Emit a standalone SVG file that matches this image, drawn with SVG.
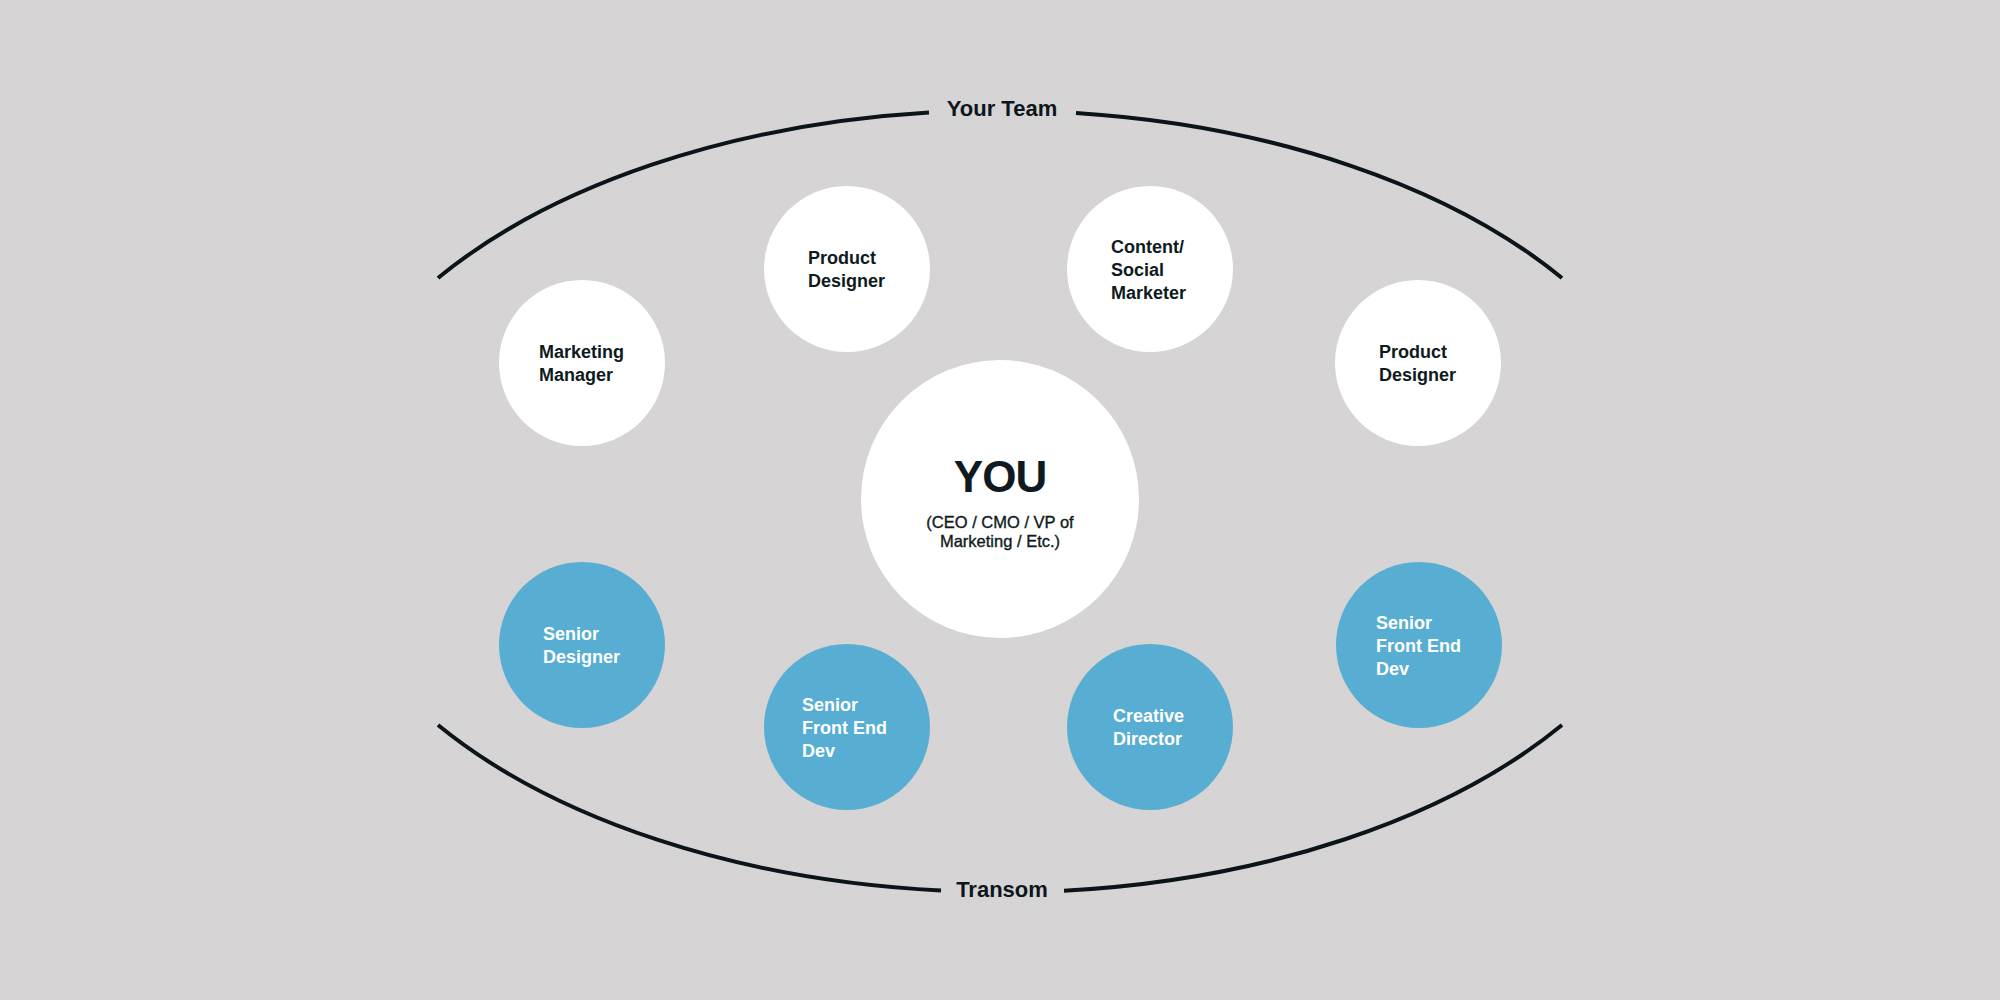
<svg xmlns="http://www.w3.org/2000/svg" width="2000" height="1000" viewBox="0 0 2000 1000">
  <defs>
    <filter id="grain" x="0" y="0" width="100%" height="100%">
      <feTurbulence type="fractalNoise" baseFrequency="0.9" numOctaves="2" seed="3" result="n"/>
      <feColorMatrix type="matrix" values="0 0 0 0 1  0 0 0 0 1  0 0 0 0 1  0 0 0 0.35 0" in="n"/>
    </filter>
    <style>
      .bg { fill: #d3d1d2; }
      .white { fill: #ffffff; }
      .blue { fill: #57aed2; }
      .arc { fill: none; stroke: #0b1419; stroke-width: 4; }
      .lbl { font-family: "Liberation Sans", Arial, sans-serif; font-weight: bold; font-size: 22px; fill: #0c161c; text-anchor: middle; }
      .t { font-family: "Liberation Sans", Arial, sans-serif; font-weight: bold; font-size: 18px; }
      .dark { fill: #0e1a20; }
      .light { fill: #ffffff; }
      .you { font-family: "Liberation Sans", Arial, sans-serif; font-weight: bold; font-size: 44px; fill: #0e1a20; text-anchor: middle; letter-spacing: -1px; }
      .sub { font-family: "Liberation Sans", Arial, sans-serif; font-size: 16.5px; fill: #0e1a20; stroke: #0e1a20; stroke-width: 0.35px; text-anchor: middle; }
    </style>
  </defs>
  <rect class="bg" x="0" y="0" width="2000" height="1000"/>
  <rect x="0" y="0" width="2000" height="1000" filter="url(#grain)" opacity="0.35"/>

  <g id="connectors">
    <path class="arc" d="M 438 278 A 685 391 0 0 1 929 112.5"/>
    <path class="arc" d="M 1076 113 A 685 391 0 0 1 1562 278"/>
    <path class="arc" d="M 438 725 A 685 391 0 0 0 941 890.5"/>
    <path class="arc" d="M 1064 890.8 A 685 391 0 0 0 1562 725"/>
    <text class="lbl" x="1002" y="116">Your Team</text>
    <text class="lbl" x="1002" y="897">Transom</text>
  </g>

  <g id="you">
    <circle class="white" cx="1000" cy="499" r="139"/>
    <text class="you" x="1000" y="492">YOU</text>
    <text class="sub" x="1000" y="528">(CEO / CMO / VP of</text>
    <text class="sub" x="1000" y="547">Marketing / Etc.)</text>
  </g>

  <g id="marketing-manager">
    <circle class="white" cx="582" cy="363" r="83"/>
    <text class="t dark" x="539" y="358">Marketing</text>
    <text class="t dark" x="539" y="381">Manager</text>
  </g>

  <g id="product-designer-1">
    <circle class="white" cx="847" cy="269" r="83"/>
    <text class="t dark" x="808" y="264">Product</text>
    <text class="t dark" x="808" y="287">Designer</text>
  </g>

  <g id="content-social-marketer">
    <circle class="white" cx="1150" cy="269" r="83"/>
    <text class="t dark" x="1111" y="253">Content/</text>
    <text class="t dark" x="1111" y="276">Social</text>
    <text class="t dark" x="1111" y="299">Marketer</text>
  </g>

  <g id="product-designer-2">
    <circle class="white" cx="1418" cy="363" r="83"/>
    <text class="t dark" x="1379" y="358">Product</text>
    <text class="t dark" x="1379" y="381">Designer</text>
  </g>

  <g id="senior-designer">
    <circle class="blue" cx="582" cy="645" r="83"/>
    <text class="t light" x="543" y="640">Senior</text>
    <text class="t light" x="543" y="663">Designer</text>
  </g>

  <g id="senior-front-end-dev-1">
    <circle class="blue" cx="847" cy="727" r="83"/>
    <text class="t light" x="802" y="711">Senior</text>
    <text class="t light" x="802" y="734">Front End</text>
    <text class="t light" x="802" y="757">Dev</text>
  </g>

  <g id="creative-director">
    <circle class="blue" cx="1150" cy="727" r="83"/>
    <text class="t light" x="1113" y="722">Creative</text>
    <text class="t light" x="1113" y="745">Director</text>
  </g>

  <g id="senior-front-end-dev-2">
    <circle class="blue" cx="1419" cy="645" r="83"/>
    <text class="t light" x="1376" y="629">Senior</text>
    <text class="t light" x="1376" y="652">Front End</text>
    <text class="t light" x="1376" y="675">Dev</text>
  </g>
</svg>
